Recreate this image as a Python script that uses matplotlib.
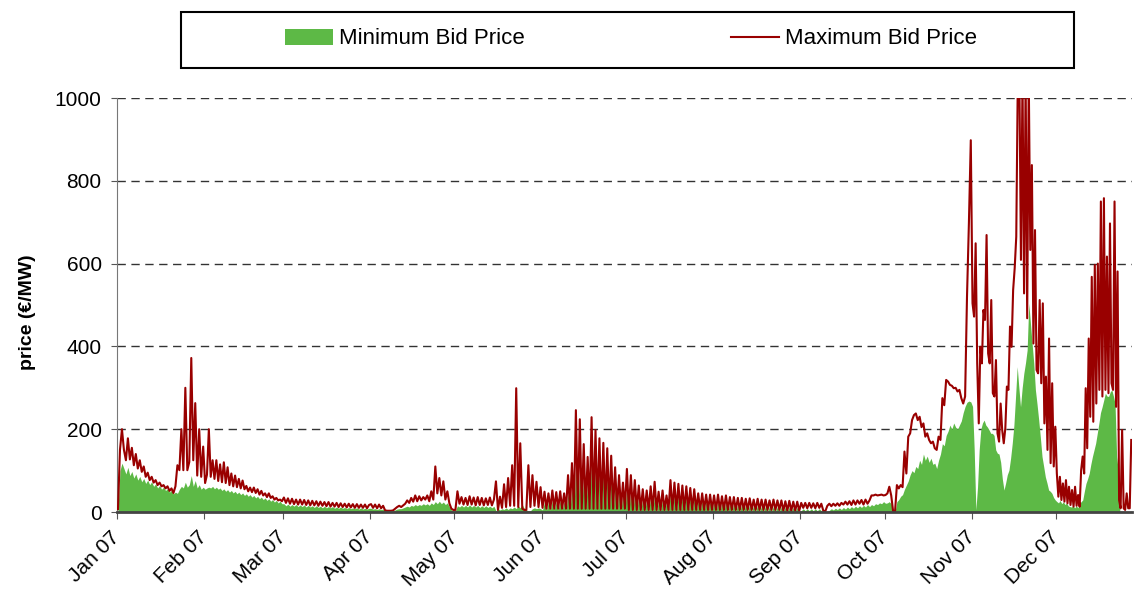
import matplotlib

matplotlib.use("Agg")
import matplotlib.pyplot as plt
import numpy as np
from matplotlib.lines import Line2D
from matplotlib.patches import Patch, Rectangle

plt.rcParams["font.family"] = ["Liberation Sans", "DejaVu Sans"]

GREEN = "#5DB946"
RED = "#990000"

month_labels = ["Jan 07", "Feb 07", "Mar 07", "Apr 07", "May 07", "Jun 07",
                "Jul 07", "Aug 07", "Sep 07", "Oct 07", "Nov 07", "Dec 07"]
# data stops a few days before the end of December
month_days = [31, 28, 31, 30, 31, 30, 31, 31, 30, 31, 30, 27]

# Maximum bid price (EUR/MW)
max_jan = [7, 150, 200, 150, 125, 178, 127, 155, 113, 140, 105, 125, 97, 110, 85, 95, 77, 85, 71, 77,
           65, 71, 62, 65, 57, 62, 51, 57, 46, 62, 113, 101, 200, 101, 300, 101, 121, 372, 125, 263,
           88, 200, 85, 158]
max_feb = [70, 90, 200, 85, 125, 80, 125, 75, 115, 72, 120, 70, 108, 65, 93, 62, 88, 60, 80, 57,
           76, 55, 63, 50, 59, 48, 59, 46, 55, 42, 51, 40, 45, 36, 45, 34, 38, 30, 34, 28, 30, 26]
max_mar = [35, 22, 33, 20, 32, 19, 30, 18, 30, 18, 29, 17, 28, 16, 27, 16, 26, 15, 25, 15, 24, 14,
           24, 13, 22, 13, 22, 12, 21, 12, 20, 11, 20, 11, 19, 10, 19, 10, 18, 10, 18, 9, 17]
max_apr = [19, 10, 18, 9, 18, 9, 15, 4, 3, 3, 3, 4, 8, 12, 15, 12, 16, 20, 28, 22, 34, 25, 40, 26,
           38, 28, 36, 30, 40, 26, 50, 30, 110, 45, 82, 40, 74, 30, 50, 21, 8, 5]
max_may = [5, 50, 20, 36, 18, 34, 17, 38, 18, 35, 16, 36, 17, 34, 16, 33, 17, 35, 16, 30, 74, 5,
           37, 10, 67, 12, 82, 15, 113, 15, 299, 12, 166, 8, 5, 5, 113, 12, 89, 15, 73, 12, 60]
max_jun = [10, 49, 8, 45, 8, 52, 8, 48, 8, 50, 8, 45, 8, 89, 8, 118, 8, 246, 8, 224, 8, 164, 8,
           133, 8, 229, 8, 198, 8, 178, 8, 167, 8, 154, 8, 136, 8, 108, 8, 89, 8, 71, 8]
max_jul = [104, 5, 89, 5, 77, 5, 64, 5, 55, 5, 52, 5, 62, 5, 73, 5, 49, 5, 52, 5, 40, 5, 77, 5,
           71, 5, 68, 5, 64, 5, 62, 5, 58, 5, 55, 5, 45, 5, 45, 5, 42, 5, 42, 5]
max_aug = [40, 5, 42, 5, 38, 5, 40, 5, 36, 5, 36, 5, 34, 5, 34, 5, 32, 5, 33, 5, 30, 5, 32, 5, 30,
           5, 30, 5, 28, 5, 30, 5, 28, 5, 28, 3, 26, 3, 27, 3, 25, 3, 25, 3]
max_sep = [22, 10, 22, 9, 22, 10, 21, 9, 22, 10, 20, 3, 2, 15, 20, 14, 20, 15, 21, 15, 22, 18, 25,
           18, 26, 17, 28, 18, 28, 20, 29, 18, 30, 20, 28, 40, 40, 42, 40, 41, 42, 40]
max_oct = [41, 45, 61, 40, 2, 0, 65, 57, 65, 60, 146, 93, 182, 190, 222, 234, 238, 222, 230, 205,
           214, 182, 190, 174, 166, 170, 154, 150, 182, 174, 275, 258, 319, 315, 307, 305, 299, 300,
           291, 295, 275, 262, 279, 520, 697, 898]
max_nov = [504, 472, 649, 359, 214, 399, 359, 488, 464, 669, 383, 359, 512, 287, 279, 367, 190, 170,
           262, 198, 166, 202, 303, 295, 448, 399, 536, 589, 665, 1050, 1050, 609, 1050, 528, 1050,
           468, 1050, 633, 838, 407, 681, 343, 335, 512, 311, 504, 214, 327, 150, 419, 118, 311,
           110, 206]
max_dec = [93, 37, 85, 29, 69, 25, 77, 21, 61, 17, 53, 13, 61, 15, 41, 13, 101, 134, 93, 299, 154,
           419, 230, 568, 218, 597, 262, 600, 295, 750, 279, 758, 295, 617, 287, 697, 311, 295, 750,
           254, 581, 29, 9, 198, 9, 5, 45, 9, 9, 174]

# Minimum bid price (EUR/MW)
min_jan = [5, 100, 118, 105, 92, 108, 88, 98, 82, 92, 77, 86, 73, 81, 69, 77, 66, 73, 62, 68, 58, 64,
           55, 60, 52, 56, 48, 52, 44, 48, 45, 55, 62, 58, 72, 60, 66, 88, 62, 76, 58, 66, 55, 60]
min_feb = [55, 58, 60, 58, 62, 56, 60, 55, 58, 52, 56, 50, 54, 48, 52, 46, 50, 44, 48, 42, 46, 40,
           44, 38, 42, 36, 40, 34, 38, 32, 36, 30, 34, 28, 32, 26, 30, 24, 28, 22, 26, 20]
min_mar = [20, 15, 19, 14, 18, 14, 18, 13, 17, 13, 17, 12, 16, 12, 15, 11, 15, 11, 14, 10, 14, 10,
           13, 10, 13, 9, 12, 9, 12, 9, 11, 8, 11, 8, 10, 8, 10, 7, 10, 7, 9, 7, 9]
min_apr = [9, 7, 8, 6, 8, 6, 7, 3, 2, 2, 2, 3, 5, 7, 8, 8, 10, 12, 14, 12, 16, 14, 18, 15, 18, 16,
           20, 17, 20, 16, 22, 18, 25, 20, 26, 20, 24, 18, 22, 12, 5, 3]
min_may = [3, 15, 12, 16, 12, 16, 12, 17, 12, 16, 12, 16, 11, 15, 11, 15, 11, 14, 10, 14, 3, 8, 5,
           8, 6, 10, 6, 10, 8, 12, 8, 15, 10, 18, 8, 5, 3, 3, 8, 10, 8, 10, 8]
min_jun = [5, 25, 5, 25, 5, 28, 5, 25, 5, 28, 5, 25, 5, 45, 5, 60, 5, 120, 5, 110, 5, 100, 5, 85, 5,
           140, 5, 125, 5, 115, 5, 105, 5, 95, 5, 80, 5, 65, 5, 55, 5, 45, 5]
min_jul = [65, 3, 55, 3, 48, 3, 40, 3, 34, 3, 32, 3, 38, 3, 45, 3, 30, 3, 32, 3, 25, 3, 48, 3, 44,
           3, 42, 3, 40, 3, 38, 3, 36, 3, 34, 3, 28, 3, 28, 3, 26, 3, 26, 3]
min_aug = [24, 2, 26, 2, 23, 2, 24, 2, 21, 2, 21, 2, 19, 2, 19, 2, 18, 2, 18, 2, 16, 2, 17, 2, 15,
           2, 15, 2, 14, 2, 14, 2, 13, 2, 13, 2, 12, 2, 12, 2, 11, 2, 11, 2]
min_sep = [3, 8, 3, 8, 3, 8, 3, 8, 3, 8, 3, 6, 2, 1, 4, 8, 5, 9, 6, 10, 6, 11, 7, 12, 8, 13, 9, 14,
           10, 15, 11, 16, 12, 18, 13, 18, 15, 20, 18, 22, 20, 25]
min_oct = [21, 22, 25, 20, 1, 0, 25, 30, 38, 42, 55, 65, 75, 90, 100, 95, 110, 105, 125, 115, 140,
           125, 135, 120, 130, 115, 118, 105, 125, 140, 165, 160, 185, 195, 210, 200, 215, 205, 200,
           210, 220, 240, 255, 265, 268, 266]
min_nov = [255, 150, 5, 60, 150, 200, 215, 222, 210, 205, 198, 190, 190, 185, 150, 142, 140, 120,
           80, 53, 70, 90, 101, 130, 166, 210, 279, 351, 300, 254, 300, 335, 360, 391, 504, 456,
           407, 360, 295, 260, 222, 180, 134, 110, 85, 70, 53, 50, 45, 35, 29]
min_dec = [25, 22, 28, 20, 25, 18, 22, 15, 13, 12, 15, 10, 15, 10, 20, 25, 29, 50, 69, 80, 93, 115,
           134, 150, 166, 190, 214, 240, 254, 270, 287, 280, 279, 290, 295, 280, 262, 134, 100, 0,
           0, 0, 0, 0, 0, 0, 0]

max_months = [max_jan, max_feb, max_mar, max_apr, max_may, max_jun,
              max_jul, max_aug, max_sep, max_oct, max_nov, max_dec]
min_months = [min_jan, min_feb, min_mar, min_apr, min_may, min_jun,
              min_jul, min_aug, min_sep, min_oct, min_nov, min_dec]

month_start = np.concatenate([[0], np.cumsum(month_days)[:-1]])


def spread(months):
    """Place each month's readings evenly across that month's days."""
    xs, ys = [], []
    for start, days, vals in zip(month_start, month_days, months):
        n = len(vals)
        xs.append(start + (np.arange(n) + 0.5) * days / n)
        ys.append(vals)
    return np.concatenate(xs), np.concatenate(ys).astype(float)


x_max, y_max = spread(max_months)
x_min, y_min = spread(min_months)

fig = plt.figure(figsize=(11.34, 5.92), dpi=100)
ax = fig.add_axes([117 / 1134, 1 - 512 / 592, 1015 / 1134, 414 / 592])

ax.fill_between(x_min, 0, y_min, color=GREEN, lw=0, zorder=2)
ax.plot(x_max, y_max, color=RED, lw=1.5, zorder=3)

ax.set_xlim(0, sum(month_days))
ax.set_ylim(0, 1000)
ax.set_yticks(range(0, 1001, 200))
ax.set_xticks(month_start)
ax.set_xticklabels(month_labels, rotation=45, ha="right", va="center", rotation_mode="anchor")
ax.tick_params(axis="both", labelsize=15, colors="#000000")
ax.tick_params(axis="y", length=4, pad=7, color="#555555")
ax.tick_params(axis="x", length=5, pad=11, color="#555555")

ax.set_axisbelow(True)
ax.yaxis.grid(True, linestyle=(0, (6, 4)), color="#333333", lw=1)
for side in ("top", "right"):
    ax.spines[side].set_visible(False)
ax.spines["left"].set_color("#777777")
ax.spines["bottom"].set_color("#444444")
ax.spines["bottom"].set_linewidth(2)
ax.spines["bottom"].set_zorder(4)

ax.set_ylabel("price (\u20ac/MW)", fontsize=14, fontweight="bold")
ax.yaxis.set_label_coords(-0.08, 0.483)

# legend in a framed box above the plot
fig.patches.append(Rectangle((181 / 1134, 1 - 68 / 592), 893 / 1134, 56 / 592,
                             transform=fig.transFigure, fill=False, ec="black", lw=1.5))
handles = [Patch(facecolor=GREEN, edgecolor="none"), Line2D([], [], color=RED, lw=1.5)]
fig.legend(handles, ["Minimum Bid Price", "Maximum Bid Price"], loc="center",
           bbox_to_anchor=(631 / 1134, 1 - 39 / 592), ncol=2, frameon=False, fontsize=16,
           handlelength=2.15, handletextpad=0.25, columnspacing=9.3)

fig.savefig("out.png", dpi=100)
